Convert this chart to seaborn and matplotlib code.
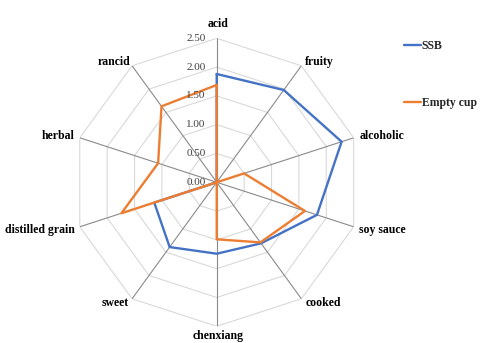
import numpy as np
import pandas as pd
import matplotlib
matplotlib.use("Agg")
import matplotlib.pyplot as plt
import seaborn as sns

# Aroma attributes, clockwise from the top
categories = ["acid", "fruity", "alcoholic", "soy sauce", "cooked",
              "chenxiang", "sweet", "distilled grain", "herbal", "rancid"]
ssb = [1.88, 1.98, 2.28, 1.83, 1.31, 1.24, 1.39, 1.14, 0.00, 0.00]
empty_cup = [1.69, 0.00, 0.50, 1.61, 1.29, 0.99, 0.00, 1.74, 1.07, 1.63]
series_names = ["SSB", "Empty cup"]
ring_values = [0.5, 1.0, 1.5, 2.0, 2.5]
tick_labels = ["0.00", "0.50", "1.00", "1.50", "2.00", "2.50"]
r_max = 2.5

colors = {"SSB": "#4472C4", "Empty cup": "#ED7D31"}

sns.set_theme(style="white")
plt.rcParams["font.family"] = ["Liberation Serif", "DejaVu Serif"]

n = len(categories)
angles = np.linspace(0, 2 * np.pi, n, endpoint=False)
closed_angles = np.append(angles, 2 * np.pi)

rows = []
for name, vals in zip(series_names, [ssb, empty_cup]):
    closed_vals = list(vals) + [vals[0]]
    for a, v in zip(closed_angles, closed_vals):
        rows.append({"theta": a, "r": v, "series": name})
df = pd.DataFrame(rows)

fig = plt.figure(figsize=(4.8, 3.43), dpi=100)
ax = fig.add_axes([0.1515, 0.0487, 0.6, 0.8397], projection="polar")
ax.set_theta_zero_location("N")
ax.set_theta_direction(-1)
ax.set_ylim(0, r_max)
ax.set_axis_off()

# decagonal grid rings
for rv in ring_values:
    ax.plot(closed_angles, [rv] * len(closed_angles), color="#d9d9d9",
            lw=0.8, zorder=1)
# spokes
for a in angles:
    ax.plot([a, a], [0, r_max], color="#8a8a8a", lw=0.8, zorder=2)

sns.lineplot(data=df, x="theta", y="r", hue="series", hue_order=series_names,
             palette=colors, sort=False, estimator=None, lw=1.7, ax=ax,
             zorder=3)

# radial tick labels along the top spoke
for i, t in enumerate(tick_labels):
    ax.annotate(t, xy=(0, i * 0.5), xytext=(-11, 0),
                textcoords="offset pixels", ha="right", va="center",
                fontsize=8, color="#404040")

# category labels
label_place = [
    ("center", (1, 14)), ("left", (4, 4)), ("left", (6, 2)),
    ("left", (5, -3)), ("left", (4, -4)), ("center", (1, -10)),
    ("right", (-3, -4)), ("right", (-5, -3)), ("right", (-5, 2)),
    ("right", (-2, 4)),
]
for cat, a, (ha, off) in zip(categories, angles, label_place):
    ax.annotate(cat, xy=(a, r_max), xytext=off, textcoords="offset pixels",
                ha=ha, va="center", fontsize=8.5, fontweight="bold",
                color="#000000", annotation_clip=False)

sns.move_legend(ax, loc="upper left", bbox_to_anchor=(404 / 480, 1 - 40 / 343),
                bbox_transform=fig.transFigure, frameon=False, title=None,
                labelspacing=3.8, handlelength=1.4, handletextpad=0.1,
                borderpad=0, borderaxespad=0,
                prop={"family": "Liberation Serif", "weight": "bold", "size": 8.5})

fig.savefig("out.png", dpi=100, facecolor="white")
